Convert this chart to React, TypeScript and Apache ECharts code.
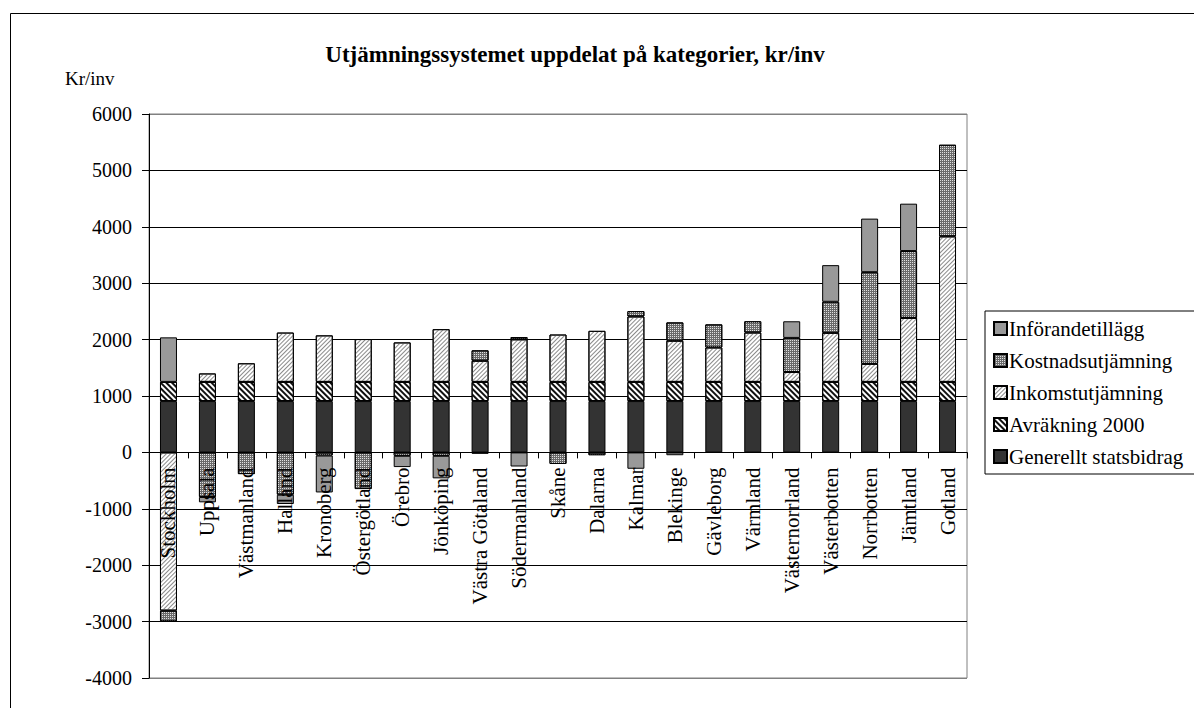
import React, { useEffect, useRef } from 'react';
import * as echarts from 'echarts';

// Län, in the order they are plotted
const regions = [
  'Stockholm', 'Uppsala', 'Västmanland', 'Halland', 'Kronoberg', 'Östergötland',
  'Örebro', 'Jönköping', 'Västra Götaland', 'Södermanland', 'Skåne', 'Dalarna',
  'Kalmar', 'Blekinge', 'Gävleborg', 'Värmland', 'Västernorrland', 'Västerbotten',
  'Norrbotten', 'Jämtland', 'Gotland',
];

// kr/inv per component (null = no contribution)
const generellt = [910, 910, 910, 910, 910, 910, 910, 910, 910, 910, 910, 910, 910, 910, 910, 910, 910, 910, 910, 910, 910];
const avrakning = [340, 340, 340, 340, 340, 340, 340, 340, 340, 340, 340, 340, 340, 340, 340, 340, 340, 340, 340, 340, 340];
const inkomst = [-2805, 150, 330, 875, 825, 760, 700, 935, 375, 755, 840, 905, 1160, 730, 610, 875, 175, 870, 320, 1135, 2580];
const kostnad = [-190, -790, -385, -750, -55, -650, -60, -60, 185, 40, -205, -50, 95, 325, 410, 200, 605, 550, 1625, 1185, 1625];
const inforande = [790, -95, null, -165, -655, null, -200, -400, -25, -250, null, null, -290, -50, null, null, 295, 650, 950, 840, null];

const yMin = -4000;
const yMax = 6000;
const yStep = 1000;

const seriesNames = ['Generellt statsbidrag', 'Avräkning 2000', 'Inkomstutjämning', 'Kostnadsutjämning', 'Införandetillägg'];
const legendOrder = ['Införandetillägg', 'Kostnadsutjämning', 'Inkomstutjämning', 'Avräkning 2000', 'Generellt statsbidrag'];

const FONT = '"Liberation Serif", "DejaVu Serif", serif';

// plot box in pixels
const GRID_TOP = 114;
const GRID_BOTTOM_PX = 678;
const GRID_LEFT = 149;
const GRID_RIGHT_PX = 967;

export default function App() {
  const ref = useRef<HTMLDivElement>(null);

  useEffect(() => {
    const chart = echarts.init(ref.current as HTMLDivElement, null, { renderer: 'svg' });

    const border = { borderColor: '#000', borderWidth: 1 };

    const styles: any[] = [
      { color: '#333333', ...border },
      {
        color: '#ffffff', ...border,
        decal: { symbol: 'rect', symbolSize: 1, color: '#111', dashArrayX: [1, 0], dashArrayY: [2, 2], rotation: Math.PI / 4 },
      },
      {
        color: '#ffffff', ...border,
        decal: { symbol: 'rect', symbolSize: 1, color: '#8a8a8a', dashArrayX: [1, 0], dashArrayY: [1, 2], rotation: -Math.PI / 4 },
      },
      {
        color: '#6a6a6a', ...border,
        decal: { symbol: 'rect', symbolSize: 1, color: '#e0e0e0', dashArrayX: [1, 1], dashArrayY: [1, 1], rotation: 0 },
      },
      { color: '#999999', ...border },
    ];

    const datasets = [generellt, avrakning, inkomst, kostnad, inforande];

    const nLines = Math.round((yMax - yMin) / yStep) + 1;
    const splitColors = Array.from({ length: nLines }, (_, i) => (i === 0 || i === nLines - 1 ? '#808080' : '#000'));

    // the category axis sits on the zero line
    const plotH = GRID_BOTTOM_PX - GRID_TOP;
    const zeroOffset = -plotH * (0 - yMin) / (yMax - yMin);

    chart.setOption({
      animation: false,
      backgroundColor: '#ffffff',
      textStyle: { fontFamily: FONT },
      grid: {
        left: GRID_LEFT, right: 1194 - GRID_RIGHT_PX, top: GRID_TOP, bottom: 708 - GRID_BOTTOM_PX,
        containLabel: false,
        outerBoundsMode: 'none',
        show: true, borderColor: '#808080', borderWidth: 1, backgroundColor: 'transparent',
      },
      legend: {
        orient: 'vertical',
        left: 985, top: 311,
        data: legendOrder,
        icon: 'rect',
        itemWidth: 13, itemHeight: 13, itemGap: 11,
        padding: [7, 12, 7, 8],
        borderColor: '#000', borderWidth: 1,
        textStyle: { fontSize: 21, fontFamily: FONT, color: '#000', padding: [0, 0, 0, -3] },
      },
      xAxis: {
        type: 'category',
        data: regions,
        offset: zeroOffset,
        z: 10,
        axisLine: { onZero: false, lineStyle: { color: '#000', width: 1 } },
        axisTick: { show: true, length: 6, lineStyle: { color: '#000' } },
        axisLabel: { rotate: 90, interval: 0, margin: 15, fontSize: 21, fontFamily: FONT, color: '#000' },
        splitLine: { show: false },
      },
      yAxis: {
        type: 'value',
        min: yMin, max: yMax, interval: yStep,
        axisLine: { show: true, lineStyle: { color: '#000', width: 1 } },
        axisTick: { show: true, length: 7, lineStyle: { color: '#000' } },
        axisLabel: { fontSize: 20, fontFamily: FONT, color: '#000', margin: 17, formatter: (v: number) => String(v) },
        splitLine: { show: true, lineStyle: { color: splitColors, width: 1 } },
      },
      graphic: [
        {
          type: 'rect', silent: true, z: -10,
          shape: { x: 10.5, y: 13.5, width: 1300, height: 800 },
          style: { fill: 'none', stroke: '#000', lineWidth: 1 },
        },
        {
          type: 'text', x: 575, y: 54,
          style: {
            text: 'Utjämningssystemet uppdelat på kategorier, kr/inv',
            font: `bold 23px ${FONT}`, fill: '#000', textAlign: 'center', textVerticalAlign: 'middle',
          },
        },
        {
          type: 'text', x: 65, y: 78,
          style: { text: 'Kr/inv', font: `19px ${FONT}`, fill: '#000', textAlign: 'left', textVerticalAlign: 'middle' },
        },
      ],
      series: seriesNames.map((name, i) => ({
        name,
        type: 'bar',
        stack: 'total',
        barWidth: 17,
        data: datasets[i],
        itemStyle: styles[i],
        emphasis: { disabled: true },
      })),
    });

    return () => chart.dispose();
  }, []);

  return (
    <div
      ref={ref}
      style={{ position: 'fixed', left: 0, top: 0, width: 1194, height: 708, background: '#fff' }}
    />
  );
}
